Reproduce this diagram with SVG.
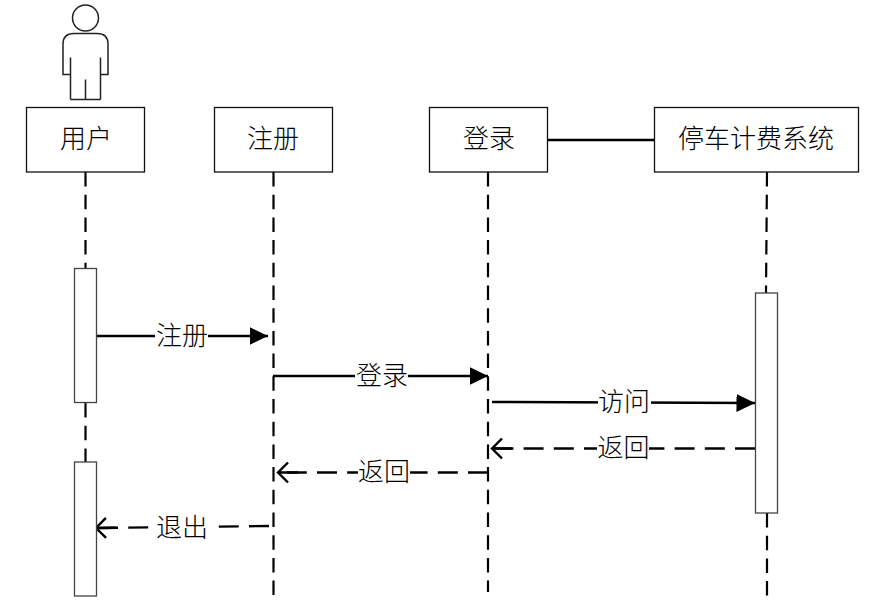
<svg xmlns="http://www.w3.org/2000/svg" width="896" height="609" viewBox="0 0 896 609">
<defs>
<marker id="solid" markerUnits="userSpaceOnUse" markerWidth="19" markerHeight="19" refX="18.500" refY="9.500" orient="auto"><path d="M0,0.500 L18.500,9.500 L0,18.500 Z" fill="#000"/></marker>
<marker id="open" markerUnits="userSpaceOnUse" markerWidth="25" markerHeight="24" refX="23" refY="12" orient="auto"><path d="M13,2 L23,12 L13,22 M3,12 H23" fill="none" stroke="#000" stroke-width="2.400"/></marker>
</defs>
<style>
.box{fill:#fff;stroke:#111;stroke-width:1.300}
.bar{fill:#fff;stroke:#444;stroke-width:1.300}
.life{stroke:#000;stroke-width:2.200;stroke-dasharray:14.500 8.200;fill:none}
.msg{stroke:#000;stroke-width:2.400;fill:none}
.dash{stroke-dasharray:20 10.200}
.bg{fill:#fff}
.actor{fill:none;stroke:#222;stroke-width:1.500}
text{font-family:"Noto Sans CJK SC","Noto Sans CJK JP",sans-serif;font-size:26px;font-weight:300;fill:#000;text-anchor:middle}
</style>
<rect width="896" height="609" fill="#fff"/>
<g id="connectors">
<path class="life" d="M85.500,172V268"/>
<path class="life" d="M85.500,403V462"/>
<path class="life" d="M273.500,172V596"/>
<path class="life" d="M488,172V592"/>
<path class="life" d="M767,172L766,293"/>
<path class="life" d="M767,513V597"/>
<path class="msg" d="M547,140H655"/>
<path class="msg" d="M96,336H268" marker-end="url(#solid)"/>
<path class="msg" d="M273,376H488" marker-end="url(#solid)"/>
<path class="msg" d="M492,402L755,403" marker-end="url(#solid)"/>
<path class="msg dash" d="M755,448.500H492" marker-end="url(#open)"/>
<path class="msg dash" d="M488,472.500H278" marker-end="url(#open)"/>
<path class="msg dash" d="M269,526L96,528" marker-end="url(#open)"/>
<rect class="bg" x="155" y="322" width="53" height="28"/><text x="182" y="345">注册</text>
<rect class="bg" x="355" y="362" width="53" height="28"/><text x="382" y="385">登录</text>
<rect class="bg" x="598" y="388" width="53" height="28"/><text x="624" y="411">访问</text>
<rect class="bg" x="597" y="434" width="52" height="28"/><text x="623.500" y="457">返回</text>
<rect class="bg" x="358" y="458" width="52" height="28"/><text x="384" y="481">返回</text>
<rect class="bg" x="150" y="513" width="64" height="28"/><text x="182" y="537">退出</text>
</g>
<g id="actor">
<circle class="actor" cx="85.500" cy="18" r="13"/>
<path class="actor" d="M70.500,99.500V57.500M100.500,99.500V57.500M70.500,99.500H100.500M85.500,99.500V79.500M70.500,74.500H63V44Q63,33.500 74,33.500H97Q108,33.500 108,44V74.500H100.500"/>
</g>
<g id="node-user"><rect class="box" x="26.500" y="107.500" width="118" height="64.500"/><text x="86" y="148">用户</text></g>
<g id="node-register"><rect class="box" x="214.500" y="107.500" width="118" height="64.500"/><text x="273" y="148">注册</text></g>
<g id="node-login"><rect class="box" x="429.500" y="107.500" width="118" height="64.500"/><text x="489" y="148">登录</text></g>
<g id="node-system"><rect class="box" x="654.500" y="107.500" width="204" height="64.500"/><text x="756" y="148">停车计费系统</text></g>
<g id="bar-user-1"><rect class="bar" x="74.500" y="268.500" width="22" height="134"/></g>
<g id="bar-user-2"><rect class="bar" x="74.500" y="462" width="22" height="134"/></g>
<g id="bar-system"><rect class="bar" x="755.500" y="293" width="22" height="220"/></g>
</svg>
